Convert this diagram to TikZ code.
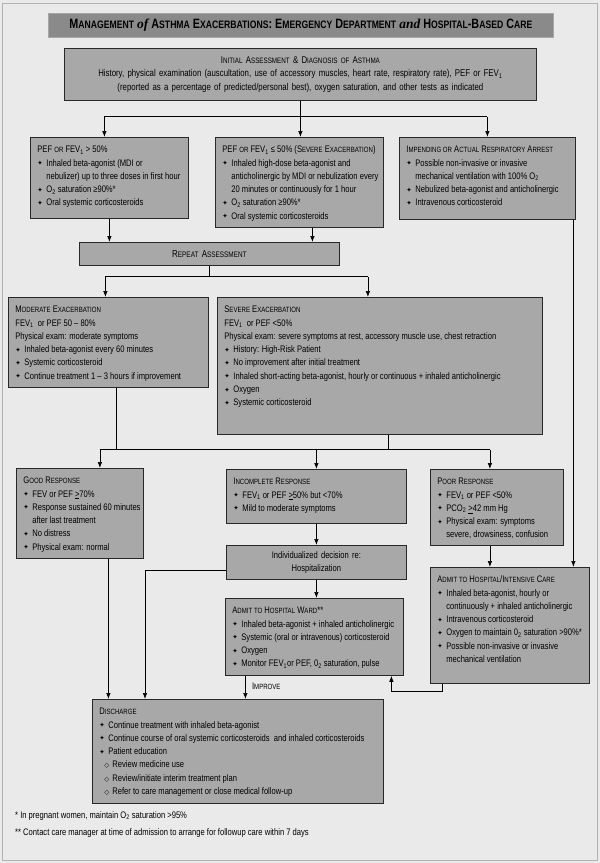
\documentclass[tikz,border=0pt]{standalone}
\usepackage{fontspec}
\setmainfont{Liberation Sans}[FakeStretch=0.8]
\newfontfamily\serifit{Liberation Serif}
\newfontfamily\symfont{DejaVu Sans}
\usetikzlibrary{arrows.meta}

\definecolor{pagebg}{RGB}{234,234,234}
\definecolor{boxgray}{RGB}{168,168,168}
\definecolor{titlegray}{RGB}{138,138,138}
\definecolor{edge}{RGB}{40,40,40}

\makeatletter
% fake small caps: rest of the word in capitals, a size smaller
\newcommand\sm[1]{{\@tempdima=\f@size pt\@tempdima=0.8\@tempdima
  \fontsize{\strip@pt\@tempdima}{\f@baselineskip}\selectfont\MakeUppercase{#1}}}
\makeatother
% box body, text set from the top left
\newcommand\bx[3]{\parbox[t][#2][t]{#1}{\vspace*{6pt}\leftskip=7pt
  \rightskip=0pt plus 1fil\hbadness=10000\strut#3}}
\newcommand\bul{\raisebox{0.5pt}{\symfont\fontsize{6.5}{6}\selectfont ✦}}
\newcommand\itm{\par\hangindent=9pt\hangafter=1\makebox[9pt][l]{\bul}}
\newcommand\subitm{\par\hangindent=17pt\hangafter=1\hspace*{5pt}%
  \makebox[8pt][l]{\symfont\fontsize{6.5}{6}\selectfont ◇}}

\tikzset{
  box/.style={draw=edge, line width=0.8pt, fill=boxgray, anchor=north west,
    inner sep=0pt, font=\fontsize{9.5}{13.3}\selectfont},
  cbox/.style={box, align=center},
  arr/.style={-{Latex[length=6pt,width=4.5pt]}, line width=0.7pt},
  link/.style={line width=0.7pt},
}

\begin{document}
\begin{tikzpicture}[x=1pt,y=-1pt]
  \useasboundingbox (0,0) rectangle (600,863);
  \fill[pagebg] (0,0) rectangle (600,863);
  \draw[gray!60, line width=0.6pt] (2,3) rectangle (597,860);

  % title bar
  \node[cbox, draw=gray!70, fill=titlegray, minimum width=505pt, minimum height=24pt,
    font=\bfseries\fontsize{13.5}{15}\selectfont] (title) at (48,13)
    {M\sm{anagement} {\serifit\itshape of} A\sm{sthma} E\sm{xacerbations}: E\sm{mergency}
     D\sm{epartment} {\serifit\itshape and} H\sm{ospital}-B\sm{ased} C\sm{are}};

  % initial assessment
  \node[cbox, text width=472pt, minimum height=52pt, font=\fontsize{9.8}{13.6}\selectfont] (init) at (64,48)
    {I\sm{nitial} A\sm{ssessment} \& D\sm{iagnosis} \sm{of} A\sm{sthma}\\
     History, physical examination (auscultation, use of accessory muscles, heart rate, respiratory rate), PEF or FEV\textsubscript{1}\\
     (reported as a percentage of predicted/personal best), oxygen saturation, and other tests as indicated};

  % first treatment
  \node[box] (pefhi) at (30,137) {\bx{158pt}{81pt}{PEF \sm{or} FEV\textsubscript{1} > 50\%
    \itm Inhaled beta-agonist (MDI or\newline nebulizer) up to three doses in first hour
    \itm O\textsubscript{2} saturation ≥90\%*
    \itm Oral systemic corticosteroids}};
  \node[box] (peflo) at (215,137) {\bx{168pt}{90pt}{PEF \sm{or} FEV\textsubscript{1} ≤ 50\% (S\sm{evere} E\sm{xacerbation})
    \itm Inhaled high-dose beta-agonist and\newline anticholinergic by MDI or nebulization every\newline 20 minutes or continuously for 1 hour
    \itm O\textsubscript{2} saturation ≥90\%*
    \itm Oral systemic corticosteroids}};
  \node[box] (arrest) at (399,137) {\bx{176pt}{82pt}{I\sm{mpending or} A\sm{ctual} R\sm{espiratory} A\sm{rrest}
    \itm Possible non-invasive or invasive\newline mechanical ventilation with 100\% O\textsubscript{2}
    \itm Nebulized beta-agonist and anticholinergic
    \itm Intravenous corticosteroid}};

  \node[cbox, text width=260pt, minimum height=23pt, font=\fontsize{10}{12}\selectfont] (repeat) at (79,242)
    {R\sm{epeat} A\sm{ssessment}};

  % exacerbation
  \node[box] (moder) at (8,297) {\bx{200pt}{90pt}{M\sm{oderate} E\sm{xacerbation}\par
    FEV\textsubscript{1} \ or PEF 50 – 80\%\par
    Physical exam: moderate symptoms
    \itm Inhaled beta-agonist every 60 minutes
    \itm Systemic corticosteroid
    \itm Continue treatment 1 – 3 hours if improvement}};
  \node[box] (severe) at (217,297) {\bx{325pt}{137pt}{S\sm{evere} E\sm{xacerbation}\par
    FEV\textsubscript{1} \ or PEF <50\%\par
    Physical exam: severe symptoms at rest, accessory muscle use, chest retraction
    \itm History: High-Risk Patient
    \itm No improvement after initial treatment
    \itm Inhaled short-acting beta-agonist, hourly or continuous + inhaled anticholinergic
    \itm Oxygen
    \itm Systemic corticosteroid}};

  % response
  \node[box] (good) at (16,468) {\bx{127pt}{90pt}{G\sm{ood} R\sm{esponse}
    \itm FEV or PEF \underline{>}70\%
    \itm Response sustained 60 minutes\newline after last treatment
    \itm No distress
    \itm Physical exam: normal}};
  \node[box] (incomp) at (226,469) {\bx{180pt}{54pt}{I\sm{ncomplete} R\sm{esponse}
    \itm FEV\textsubscript{1} or PEF \underline{>}50\% but <70\%
    \itm Mild to moderate symptoms}};
  \node[cbox, text width=180pt, minimum height=34pt] (indiv) at (226,545)
    {Individualized decision re:\\ Hospitalization};
  \node[box] (ward) at (225,598) {\bx{178pt}{77pt}{A\sm{dmit to} H\sm{ospital} W\sm{ard}**
    \itm Inhaled beta-agonist + inhaled anticholinergic
    \itm Systemic (oral or intravenous) corticosteroid
    \itm Oxygen
    \itm Monitor FEV\textsubscript{1}or PEF, 0\textsubscript{2} saturation, pulse}};
  \node[box] (poor) at (430,469) {\bx{133pt}{76pt}{P\sm{oor} R\sm{esponse}
    \itm FEV\textsubscript{1} or PEF <50\%
    \itm PCO\textsubscript{2} \underline{>}42 mm Hg
    \itm Physical exam: symptoms\newline severe, drowsiness, confusion}};
  \node[box] (icu) at (430,567) {\bx{159pt}{116pt}{A\sm{dmit to} H\sm{ospital}/I\sm{ntensive} C\sm{are}
    \itm Inhaled beta-agonist, hourly or\newline continuously + inhaled anticholinergic
    \itm Intravenous corticosteroid
    \itm Oxygen to maintain 0\textsubscript{2} saturation >90\%*
    \itm Possible non-invasive or invasive\newline mechanical ventilation}};

  \node[box] (disch) at (92,699) {\bx{291pt}{104pt}{D\sm{ischarge}
    \itm Continue treatment with inhaled beta-agonist
    \itm Continue course of oral systemic corticosteroids \ and inhaled corticosteroids
    \itm Patient education
    \subitm Review medicine use
    \subitm Review/initiate interim treatment plan
    \subitm Refer to care management or close medical follow-up}};

  \node[anchor=north west, align=left, inner sep=0pt, font=\fontsize{9.5}{17}\selectfont]
    (notes) at (15,811)
    {* In pregnant women, maintain O\textsubscript{2} saturation >95\%\\
     ** Contact care manager at time of admission to arrange for followup care within 7 days};

  % connectors
  \draw[link] (init.south) -- ++(0,16) coordinate (s1);
  \coordinate (a1) at ([xshift=-5pt]pefhi.north);
  \draw[link] (a1 |- s1) -- (arrest.north |- s1);
  \draw[arr] (a1 |- s1) -- (a1);
  \draw[arr] (s1) -- (s1 |- peflo.north);
  \draw[arr] (arrest.north |- s1) -- (arrest.north);

  \draw[arr] (pefhi.south) -- (pefhi.south |- repeat.north);
  \coordinate (a2) at ([xshift=13pt]peflo.south);
  \draw[arr] (a2) -- (a2 |- repeat.north);

  \draw[link] (repeat.south) -- ++(0,11) coordinate (s2);
  \coordinate (a3) at ([xshift=-3pt]moder.north);
  \coordinate (a4) at ([xshift=-12pt]severe.north);
  \draw[link] (a3 |- s2) -- (a4 |- s2);
  \draw[arr] (a3 |- s2) -- (a3);
  \draw[arr] (a4 |- s2) -- (a4);

  \coordinate (m1) at ([xshift=8pt]moder.south);
  \coordinate (m2) at ([xshift=8pt]severe.south);
  \draw[link] (m1) -- ++(0,62) coordinate (s3);
  \draw[link] (m2) -- (m2 |- s3);
  \coordinate (a5) at ([xshift=20pt]good.north);
  \coordinate (a6) at ([xshift=-7pt]poor.north);
  \draw[link] (a5 |- s3) -- (a6 |- s3);
  \draw[arr] (a5 |- s3) -- (a5);
  \draw[arr] (incomp.north |- s3) -- (incomp.north);
  \draw[arr] (a6 |- s3) -- (a6);

  \draw[arr] (incomp.south) -- (indiv.north);
  \draw[arr] (indiv.south) -- (indiv.south |- ward.north);
  \draw[arr] (a6 |- poor.south) -- (a6 |- icu.north);
  \coordinate (a7) at ([xshift=86pt]arrest.south);
  \draw[arr] (a7) -- (a7 |- icu.north);
  \coordinate (a8) at ([xshift=-67.5pt]icu.south);
  \coordinate (a9) at ([xshift=77pt]ward.south);
  \draw[arr] (a8) -- ++(0,8) -| (a9);

  \coordinate (a10) at ([xshift=28.5pt]good.south);
  \draw[arr] (a10) -- (a10 |- disch.north);
  \coordinate (a11) at ([yshift=-8pt]indiv.west);
  \draw[arr] (a11) -- ++(-81,0) coordinate (c1) -- (c1 |- disch.north);
  \coordinate (a12) at ([xshift=-69pt]ward.south);
  \draw[arr] (a12) -- (a12 |- disch.north)
    node[pos=0.45, right, xshift=3pt, font=\fontsize{9.5}{10}\selectfont] (improve) {I\sm{mprove}};
\end{tikzpicture}
\end{document}
